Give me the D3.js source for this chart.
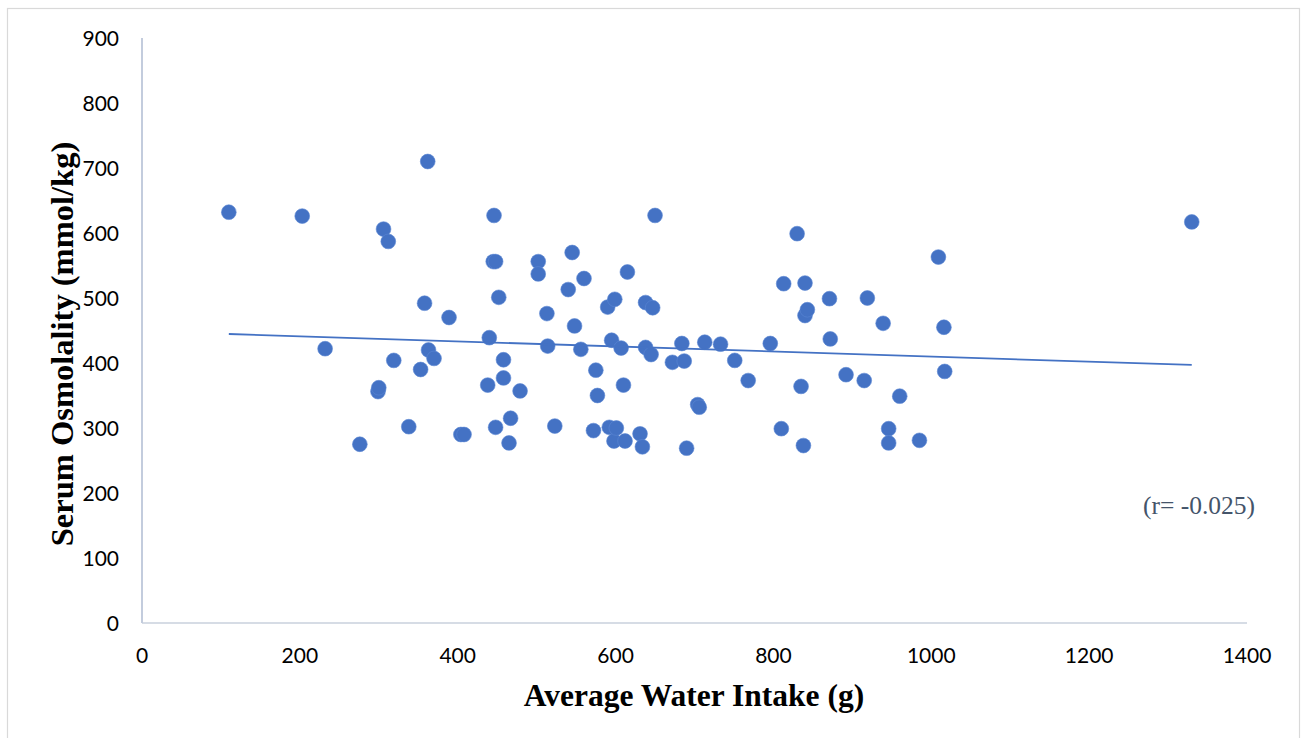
<!DOCTYPE html>
<html>
<head>
<meta charset="utf-8">
<title>Serum Osmolality vs Average Water Intake</title>
<script src="https://cdn.jsdelivr.net/npm/d3@7"></script>
<style>
body { margin: 0; background: #fff; }
svg { display: block; }
.tick-label { font: 21px Lato, "Open Sans", sans-serif; fill: #000; }
.axis-title { font: bold 31.5px "Liberation Serif", "Times New Roman", serif; fill: #000; }
.ytitle { font-size: 32.5px; }
.note { font: 25.5px "Liberation Serif", "Times New Roman", serif; fill: #44546A; }
</style>
</head>
<body>
<script>
// Water intake (g)
const intake = [110, 203, 232, 276, 299, 300, 306, 312, 319, 338, 353, 358, 362, 363, 370, 389,
  404, 408, 438, 440, 446, 445, 448, 448, 452, 458, 458, 465, 467, 479, 502, 502, 513, 514,
  523, 540, 545, 548, 556, 560, 572, 575, 577, 590, 592, 595, 598, 599, 601, 607, 610, 612,
  615, 631, 634, 638, 638, 645, 647, 650, 672, 684, 687, 690, 704, 706, 713, 733, 751, 768,
  796, 810, 813, 830, 835, 838, 840, 840, 843, 871, 872, 892, 915, 919, 939, 946, 946, 960,
  985, 1009, 1016, 1017, 1330]
// Serum osmolality (mmol/kg), same order
const osmo = [632, 626, 422, 275, 356, 362, 606, 587, 404, 302, 390, 492, 710, 420, 407, 470,
  290, 290, 366, 439, 627, 556, 556, 301, 501, 405, 377, 277, 315, 357, 556, 537, 476, 426,
  303, 513, 570, 457, 421, 530, 296, 389, 350, 486, 301, 435, 280, 498, 300, 423, 366, 280,
  540, 291, 271, 493, 424, 413, 485, 627, 401, 430, 403, 269, 336, 332, 432, 429, 404, 373,
  430, 299, 522, 599, 364, 273, 523, 473, 482, 499, 437, 382, 373, 500, 461, 299, 277, 349,
  281, 563, 455, 387, 617]

// linear trend line as drawn in the picture
const trendX = [110, 1330]
const trendY = [444.6, 397]

const xTicks = [0, 200, 400, 600, 800, 1000, 1200, 1400]
const yTicks = [0, 100, 200, 300, 400, 500, 600, 700, 800, 900]

const W = 1302, H = 738
const svg = d3.select('body').append('svg').attr('width', W).attr('height', H)

// chart frame
svg.append('rect')
  .attr('x', 7.5).attr('y', 8.5).attr('width', 1292).attr('height', 740)
  .attr('fill', 'none').attr('stroke', '#D9D9D9').attr('stroke-width', 1.2)

const x = d3.scaleLinear().domain([0, 1400]).range([142, 1247])
const y = d3.scaleLinear().domain([0, 900]).range([623, 38])

// axis lines
svg.append('line')
  .attr('x1', x(0)).attr('x2', x(1400)).attr('y1', y(0)).attr('y2', y(0))
  .attr('stroke', '#D6DCE5').attr('stroke-width', 2)
svg.append('line')
  .attr('x1', x(0)).attr('x2', x(0)).attr('y1', y(0)).attr('y2', y(900))
  .attr('stroke', '#C3CCDD').attr('stroke-width', 2)

// tick labels
svg.selectAll('.ylab').data(yTicks).enter().append('text')
  .attr('class', 'tick-label')
  .attr('x', 119).attr('y', d => y(d)).attr('dy', '0.36em')
  .attr('text-anchor', 'end')
  .text(d => d)

svg.selectAll('.xlab').data(xTicks).enter().append('text')
  .attr('class', 'tick-label')
  .attr('x', d => x(d)).attr('y', 655).attr('dy', '0.36em')
  .attr('text-anchor', 'middle')
  .text(d => d)

// points
svg.append('g').selectAll('circle')
  .data(d3.range(intake.length)).enter().append('circle')
  .attr('cx', i => x(intake[i]))
  .attr('cy', i => y(osmo[i]))
  .attr('r', 7.4)
  .attr('fill', '#4472C4')
  .attr('stroke', '#5B86D3')
  .attr('stroke-width', 0.6)

// trend line
svg.append('line')
  .attr('x1', x(trendX[0])).attr('y1', y(trendY[0]))
  .attr('x2', x(trendX[1])).attr('y2', y(trendY[1]))
  .attr('stroke', '#4472C4').attr('stroke-width', 1.8)

// titles
svg.append('text')
  .attr('class', 'axis-title')
  .attr('x', 694).attr('y', 706)
  .attr('text-anchor', 'middle')
  .text('Average Water Intake (g)')

svg.append('text')
  .attr('class', 'axis-title ytitle')
  .attr('transform', 'translate(73, 344) rotate(-90)')
  .attr('text-anchor', 'middle')
  .text('Serum Osmolality (mmol/kg)')

svg.append('text')
  .attr('class', 'note')
  .attr('x', 1143).attr('y', 514)
  .text('(r= -0.025)')
</script>
</body>
</html>
